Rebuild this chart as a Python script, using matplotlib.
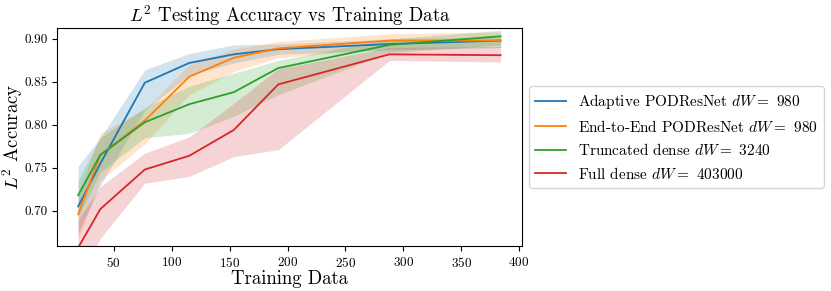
import numpy as np
import matplotlib
matplotlib.use("Agg")
import matplotlib.pyplot as plt

plt.rcParams['font.family'] = 'serif'
plt.rcParams['font.serif'] = ['cmr10']
plt.rcParams['mathtext.fontset'] = 'cm'
plt.rcParams['axes.formatter.use_mathtext'] = True

# training data sizes
n_train = [19.2, 38.4, 76.8, 115.2, 153.6, 192, 288, 384]

# mean accuracies
acc_adaptive = [0.705, 0.755, 0.849, 0.872, 0.882, 0.888, 0.894, 0.898]
acc_e2e = [0.696, 0.765, 0.805, 0.856, 0.878, 0.889, 0.898, 0.898]
acc_trunc = [0.718, 0.765, 0.803, 0.824, 0.838, 0.866, 0.893, 0.903]
acc_full = [0.657, 0.702, 0.748, 0.764, 0.794, 0.847, 0.882, 0.881]

# band bounds (lower, upper)
lo_adaptive = [0.674, 0.730, 0.817, 0.858, 0.872, 0.882, 0.887, 0.890]
hi_adaptive = [0.752, 0.785, 0.864, 0.883, 0.893, 0.894, 0.900, 0.902]
lo_e2e = [0.668, 0.735, 0.778, 0.835, 0.862, 0.878, 0.889, 0.890]
hi_e2e = [0.720, 0.790, 0.818, 0.870, 0.888, 0.897, 0.906, 0.908]
lo_trunc = [0.693, 0.745, 0.785, 0.790, 0.810, 0.835, 0.884, 0.893]
hi_trunc = [0.735, 0.785, 0.820, 0.845, 0.860, 0.875, 0.900, 0.910]
lo_full = [0.615, 0.668, 0.732, 0.740, 0.763, 0.771, 0.875, 0.873]
hi_full = [0.690, 0.728, 0.767, 0.786, 0.825, 0.865, 0.890, 0.891]

labels = [r'Adaptive PODResNet $dW=$ 980',
          r'End-to-End PODResNet $dW=$ 980',
          r'Truncated dense $dW=$ 3240',
          r'Full dense $dW=$ 403000']
colors = ['#1f77b4', '#ff7f0e', '#2ca02c', '#d62728']

means = [acc_adaptive, acc_e2e, acc_trunc, acc_full]
lows = [lo_adaptive, lo_e2e, lo_trunc, lo_full]
highs = [hi_adaptive, hi_e2e, hi_trunc, hi_full]

fig = plt.figure(figsize=(8.31, 2.91), dpi=100)
ax = fig.add_axes([0.0686, 0.1546, 0.5592, 0.7502])

for m, lo, hi, lab, c in zip(means, lows, highs, labels, colors):
    ax.plot(n_train, m, color=c, label=lab, linewidth=1.3)
    ax.fill_between(n_train, lo, hi, color=c, alpha=0.2, linewidth=0)

ax.set_ylim(0.659, 0.913)
ax.set_xlim(0.96, 402.24)
ax.set_xticks([50, 100, 150, 200, 250, 300, 350, 400])
ax.set_yticks([0.70, 0.75, 0.80, 0.85, 0.90])
ax.set_yticklabels(['0.70', '0.75', '0.80', '0.85', '0.90'])
ax.tick_params(labelsize=9.5)

ax.set_title(r'$L^2$ Testing Accuracy vs Training Data', fontsize=13.5, pad=4)
ax.set_xlabel('Training Data', fontsize=13.5, labelpad=0)
ax.set_ylabel(r'$L^2$ Accuracy', fontsize=13.5)
ax.yaxis.set_label_coords(-0.069, 0.5)

ax.legend(loc='center left', bbox_to_anchor=(1.0, 0.5), fontsize=11)

fig.savefig('out.png', dpi=100)
